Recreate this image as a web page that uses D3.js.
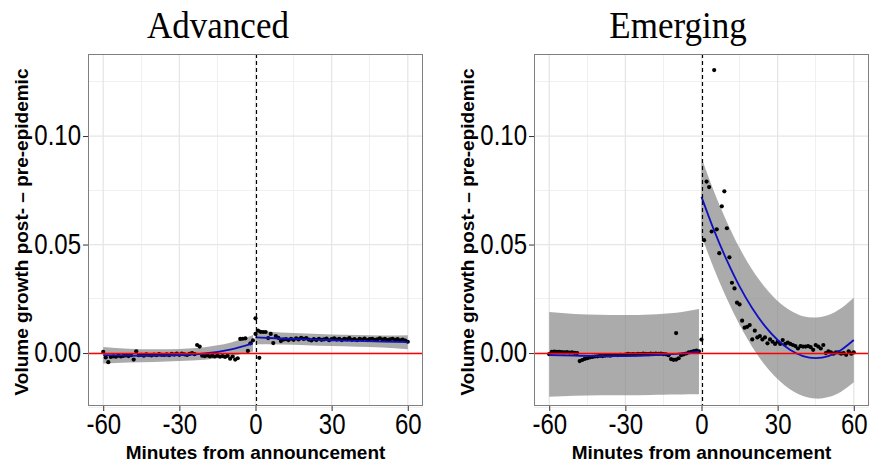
<!DOCTYPE html>
<html>
<head>
<meta charset="utf-8">
<script src="https://cdn.jsdelivr.net/npm/d3@7"></script>
<style>
  body { margin: 0; background: #fff; }
  svg { display: block; }
</style>
</head>
<body>
<div id="chart"></div>
<script>
// ---- data ----
const preMinutes = d3.range(-60, 0);
const postMinutes = d3.range(0, 61);

const advPreVals = [
  0.0005, -0.0020, -0.0042, -0.0018, -0.0015, -0.0017, -0.0012, -0.0016, -0.0013, -0.0011,
  -0.0014, -0.0010, -0.0030, 0.0008, -0.0010, -0.0008, -0.0012, -0.0006, -0.0009, -0.0011,
  -0.0007, -0.0010, -0.0005, -0.0008, -0.0009, -0.0006, -0.0010, -0.0004, -0.0007, -0.0003,
  -0.0008, -0.0002, -0.0006, -0.0009, -0.0004, 0.0000, -0.0005, 0.0037, 0.0030, -0.0012,
  -0.0014, -0.0011, -0.0015, -0.0013, -0.0016, -0.0012, -0.0017, -0.0014, -0.0018, -0.0013,
  -0.0026, -0.0016, -0.0030, -0.0024, 0.0065, 0.0066, 0.0068, 0.0010, 0.0045, 0.0058
];
const advPostVals = [
  0.0160, 0.0103, 0.0098, 0.0097, 0.0097, 0.0069, 0.0088, 0.0046, 0.0078, 0.0070,
  0.0055, 0.0062, 0.0064, 0.0060, 0.0066, 0.0061, 0.0068, 0.0063, 0.0070, 0.0065,
  0.0069, 0.0062, 0.0058, 0.0064, 0.0060, 0.0066, 0.0061, 0.0063, 0.0067, 0.0059,
  0.0064, 0.0068, 0.0062, 0.0065, 0.0060, 0.0066, 0.0063, 0.0069, 0.0061, 0.0064,
  0.0059, 0.0065, 0.0062, 0.0067, 0.0060, 0.0064, 0.0066, 0.0061, 0.0063, 0.0068,
  0.0062, 0.0065, 0.0060, 0.0063, 0.0066, 0.0061, 0.0064, 0.0059, 0.0062, 0.0057, 0.0052
];
const advExtraMin = [0, 1.5];
const advExtraVals = [0.0088, -0.0022];

const emPreVals = [
  -0.0005, 0.0006, 0.0007, 0.0005, 0.0006, 0.0004, 0.0003, 0.0004, 0.0002, 0.0003,
  0.0001, 0.0000, -0.0037, -0.0032, -0.0027, -0.0024, -0.0020, -0.0018, -0.0016, -0.0015,
  -0.0013, -0.0014, -0.0012, -0.0011, -0.0012, -0.0010, -0.0009, -0.0010, -0.0008, -0.0009,
  -0.0007, -0.0004, -0.0006, -0.0005, -0.0006, -0.0004, -0.0005, -0.0003, -0.0004, -0.0005,
  -0.0003, -0.0004, -0.0002, -0.0004, -0.0003, -0.0005, -0.0006, -0.0010, -0.0028, -0.0031,
  -0.0030, -0.0024, -0.0010, -0.0006, -0.0002, 0.0003, 0.0006, 0.0009, 0.0011, 0.0008
];
const emPostVals = [
  0.0062, 0.0520, 0.0790, 0.0765, 0.0560, 0.1304, 0.0570, 0.0460, 0.0676, 0.0745,
  0.0575, 0.0441, 0.0324, 0.0298, 0.0232, 0.0224, 0.0149, 0.0117, 0.0121, 0.0129,
  0.0063, 0.0103, 0.0072, 0.0078, 0.0063, 0.0072, 0.0045, 0.0063, 0.0052, 0.0042,
  0.0052, 0.0042, 0.0060, 0.0042, 0.0048, 0.0042, 0.0037, 0.0032, 0.0021, 0.0032,
  0.0030, 0.0030, 0.0032, 0.0027, 0.0015, 0.0037, 0.0030, 0.0021, 0.0037, 0.0000,
  0.0008, 0.0003, -0.0003, 0.0003, 0.0003, -0.0003, 0.0000, -0.0008, 0.0008, -0.0003, 0.0003
];
const emExtraMin = [-10];
const emExtraVals = [0.0092];

// fitted curves with confidence bands
const preFitMin = [-60, -50, -40, -30, -20, -10, -1];
const advPreFit = [-0.0010, -0.0012, -0.0012, -0.0009, -0.0002, 0.0016, 0.0045];
const advPreLo  = [-0.0048, -0.0044, -0.0041, -0.0037, -0.0031, -0.0015, 0.0007];
const advPreHi  = [0.0028, 0.0020, 0.0017, 0.0019, 0.0027, 0.0047, 0.0083];

const advPostFitMin = [0, 10, 20, 30, 40, 50, 60];
const advPostFit = [0.0072, 0.0067, 0.0063, 0.0059, 0.0056, 0.0053, 0.0050];
const advPostLo  = [0.0040, 0.0039, 0.0036, 0.0032, 0.0029, 0.0025, 0.0018];
const advPostHi  = [0.0104, 0.0095, 0.0090, 0.0086, 0.0083, 0.0081, 0.0082];

const emPreFit = [-0.0009, -0.0012, -0.0014, -0.0014, -0.0011, -0.0004, 0.0006];
const emPreLo  = [-0.0201, -0.0197, -0.0195, -0.0194, -0.0193, -0.0191, -0.0190];
const emPreHi  = [0.0189, 0.0180, 0.0176, 0.0175, 0.0178, 0.0186, 0.0203];

const emPostFitMin = [0, 5, 10, 15, 20, 25, 30, 35, 40, 45, 50, 55, 60];
const emPostFit = [0.0720, 0.0564, 0.0427, 0.0307, 0.0206, 0.0124, 0.0060, 0.0014, -0.0014, -0.0023, -0.0014, 0.0014, 0.0060];
const emPostLo  = [0.0540, 0.0386, 0.0250, 0.0130, 0.0028, -0.0055, -0.0120, -0.0168, -0.0198, -0.0210, -0.0203, -0.0178, -0.0135];
const emPostHi  = [0.0900, 0.0742, 0.0604, 0.0484, 0.0384, 0.0303, 0.0240, 0.0196, 0.0170, 0.0164, 0.0175, 0.0206, 0.0255];

const xTicks = [-60, -30, 0, 30, 60];
const xMinor = [-45, -15, 15, 45];
const yTicks = [0, 0.05, 0.10];
const yMinor = [-0.025, 0.025, 0.075, 0.125];
const panelTitles = ["Advanced", "Emerging"];
const yTitle = "Volume growth post- \u2013 pre-epidemic";
const xTitle = "Minutes from announcement";

// ---- layout ----
const width = 869, height = 463;
const panels = [
  { title: panelTitles[0], left: 88, titleX: 218, pre: advPreVals, post: advPostVals,
    exMin: advExtraMin, exVals: advExtraVals,
    fits: [[preFitMin, advPreFit, advPreLo, advPreHi], [advPostFitMin, advPostFit, advPostLo, advPostHi]] },
  { title: panelTitles[1], left: 534, titleX: 678, pre: emPreVals, post: emPostVals,
    exMin: emExtraMin, exVals: emExtraVals,
    fits: [[preFitMin, emPreFit, emPreLo, emPreHi], [emPostFitMin, emPostFit, emPostLo, emPostHi]] }
];
const panelW = 335, plotTop = 54, plotBottom = 406;
const sans = "'Liberation Sans', Arial, Helvetica, sans-serif";

const svg = d3.select("#chart").append("svg")
  .attr("width", width).attr("height", height);

const y = d3.scaleLinear().domain([-0.0244, 0.1378]).range([plotBottom, plotTop]);

panels.forEach(p => {
  const x = d3.scaleLinear().domain([-66, 66]).range([p.left, p.left + panelW]);
  const g = svg.append("g");

  // grid
  g.selectAll(".vminor").data(xMinor).join("line")
    .attr("x1", d => x(d)).attr("x2", d => x(d)).attr("y1", plotTop).attr("y2", plotBottom)
    .attr("stroke", "#f0f0f0").attr("stroke-width", 1).attr("shape-rendering", "crispEdges");
  g.selectAll(".hminor").data(yMinor).join("line")
    .attr("x1", p.left).attr("x2", p.left + panelW).attr("y1", d => y(d)).attr("y2", d => y(d))
    .attr("stroke", "#f0f0f0").attr("stroke-width", 1).attr("shape-rendering", "crispEdges");
  g.selectAll(".vmajor").data(xTicks).join("line")
    .attr("x1", d => x(d)).attr("x2", d => x(d)).attr("y1", plotTop).attr("y2", plotBottom)
    .attr("stroke", "#e6e6e6").attr("stroke-width", 1.3);
  g.selectAll(".hmajor").data(yTicks).join("line")
    .attr("x1", p.left).attr("x2", p.left + panelW).attr("y1", d => y(d)).attr("y2", d => y(d))
    .attr("stroke", "#e6e6e6").attr("stroke-width", 1.3);

  // confidence bands
  const area = d3.area().x(d => x(d[0])).y0(d => y(d[2])).y1(d => y(d[3])).curve(d3.curveNatural);
  const line = d3.line().x(d => x(d[0])).y(d => y(d[1])).curve(d3.curveNatural);
  const fitRows = p.fits.map(f => f[0].map((m, i) => [m, f[1][i], f[2][i], f[3][i]]));
  fitRows.forEach(rows => {
    g.append("path").datum(rows).attr("d", area)
      .attr("fill", "#808080").attr("fill-opacity", 0.66);
  });

  // points
  const pts = preMinutes.map((m, i) => [m, p.pre[i]])
    .concat(postMinutes.map((m, i) => [m, p.post[i]]))
    .concat(p.exMin.map((m, i) => [m, p.exVals[i]]));
  g.selectAll(".pt").data(pts).join("circle")
    .attr("cx", d => x(d[0])).attr("cy", d => y(d[1])).attr("r", 2.1)
    .attr("fill", "#000");

  // fitted lines
  fitRows.forEach(rows => {
    g.append("path").datum(rows).attr("d", line)
      .attr("fill", "none").attr("stroke", "#1010c0").attr("stroke-width", 1.8);
  });

  // zero line and announcement line
  g.append("line").attr("x1", p.left).attr("x2", p.left + panelW)
    .attr("y1", y(0) + 0.4).attr("y2", y(0) + 0.4)
    .attr("stroke", "#ff0000").attr("stroke-width", 1.5);
  g.append("line").attr("x1", Math.round(x(0)) + 0.5).attr("x2", Math.round(x(0)) + 0.5)
    .attr("y1", plotTop).attr("y2", plotBottom)
    .attr("stroke", "#000").attr("stroke-width", 1.2).attr("stroke-dasharray", "4,3");

  // border
  g.append("rect").attr("x", p.left + 0.5).attr("y", plotTop + 0.5)
    .attr("width", panelW - 1).attr("height", plotBottom - plotTop - 1)
    .attr("fill", "none").attr("stroke", "#7f7f7f").attr("stroke-width", 1);

  // axes
  const xAxis = d3.axisBottom(x).tickValues(xTicks).tickSize(5).tickFormat(d => String(d));
  const yAxis = d3.axisLeft(y).tickValues(yTicks).tickSize(5).tickFormat(d3.format(".2f"));
  const gx = g.append("g").attr("transform", `translate(0,${plotBottom})`).call(xAxis);
  const gy = g.append("g").attr("transform", `translate(${p.left},0)`).call(yAxis);
  [gx, gy].forEach(a => {
    a.select(".domain").remove();
    a.selectAll(".tick line").attr("stroke", "#333");
    a.selectAll("text").attr("font-family", sans).attr("font-size", 24).attr("fill", "#000");
  });
  gx.selectAll("text").attr("dy", null).attr("y", null)
    .attr("transform", "translate(0,28) scale(1,1.22)");
  gy.selectAll("text").attr("dy", null).attr("x", null)
    .attr("transform", "translate(-7,8.5) scale(1,1.22)");

  // titles
  svg.append("text").attr("x", 0).attr("y", 0)
    .attr("transform", `translate(${p.titleX},38) scale(1,1.1)`)
    .attr("text-anchor", "middle").attr("font-family", "'Liberation Serif', 'DejaVu Serif', serif")
    .attr("font-size", 35).attr("fill", "#000").text(p.title);
  svg.append("text")
    .attr("transform", `translate(${p.left + panelW / 2},459)`)
    .attr("text-anchor", "middle").attr("font-family", sans).attr("font-weight", "bold")
    .attr("font-size", 19).attr("fill", "#000").text(xTitle);
  svg.append("text")
    .attr("transform", `translate(${p.left - 60},${(plotTop + plotBottom) / 2 + 2}) rotate(-90)`)
    .attr("text-anchor", "middle").attr("font-family", sans).attr("font-weight", "bold")
    .attr("font-size", 19).attr("fill", "#000").text(yTitle);
});
</script>
</body>
</html>
